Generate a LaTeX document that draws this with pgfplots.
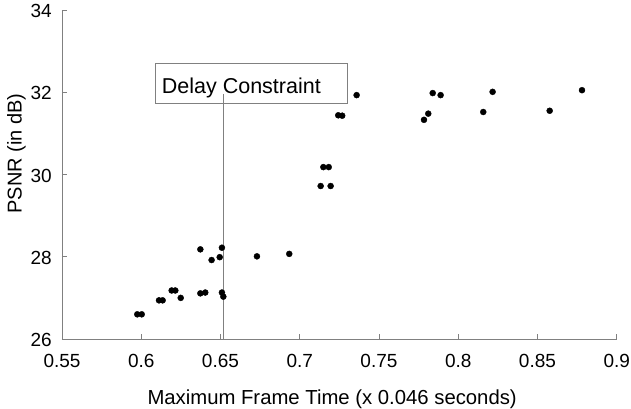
\documentclass[border=0pt]{standalone}
\usepackage{fontspec}
\setmainfont{Liberation Sans}
\usepackage{pgfplots}
\pgfplotsset{compat=1.18}
\definecolor{axgray}{RGB}{128,128,128}
\begin{document}
\begin{tikzpicture}
\begin{axis}[
  scale only axis,
  width=554.7pt, height=329pt,
  at={(0,0)}, anchor=south west,
  xmin=0.55, xmax=0.9, ymin=26, ymax=34,
  axis x line=bottom, axis y line=left,
  axis line style={-, axgray, line width=0.9pt},
  tick style={axgray, line width=0.9pt},
  tick align=inside,
  major tick length=5pt,
  xtick={0.55,0.6,0.65,0.7,0.75,0.8,0.85,0.9},
  xticklabels={0.55,0.6,0.65,0.7,0.75,0.8,0.85,0.9},
  ytick={26,28,30,32,34},
  yticklabels={26,28,30,32,34},
  xticklabel style={font=\fontsize{19}{21}\selectfont, anchor=base, yshift=-28pt, inner sep=0pt},
  yticklabel style={font=\fontsize{19}{21}\selectfont, anchor=east, xshift=-10pt, yshift=-1pt, inner sep=0pt},
  xlabel={Maximum Frame Time (x 0.046 seconds)},
  ylabel={PSNR (in dB)},
  xlabel style={font=\fontsize{20.3}{23}\selectfont, at={(axis description cs:0.487,-0.1976)}, anchor=base, inner sep=0pt},
  ylabel style={font=\fontsize{20}{23}\selectfont, at={(axis description cs:-0.082,0.564)}, anchor=center, inner sep=0pt},
  clip=false,
]
\addplot[only marks, mark=*, mark size=3pt, black] coordinates {
(0.5975,26.60) (0.6003,26.60)
(0.6112,26.94) (0.6135,26.94)
(0.6192,27.18) (0.6215,27.18)
(0.6249,27.00)
(0.6373,27.11) (0.6404,27.13)
(0.6373,28.18)
(0.6444,27.92)
(0.6495,27.99)
(0.6509,28.22)
(0.6509,27.13) (0.6518,27.03)
(0.6730,28.01)
(0.6934,28.07)
(0.7132,29.72) (0.7195,29.72)
(0.7149,30.18) (0.7183,30.18)
(0.7243,31.44) (0.7268,31.43)
(0.7359,31.93)
(0.7784,31.33) (0.7811,31.48)
(0.7839,31.98) (0.7889,31.93)
(0.8158,31.52)
(0.8217,32.01)
(0.8577,31.55)
(0.8781,32.05)
};
\addplot[axgray, line width=0.9pt] coordinates {(0.652,26) (0.652,31.95)};
\draw[axgray, line width=0.9pt] (axis cs:0.6091,31.718) rectangle (axis cs:0.7300,32.708);
\node[anchor=base west, inner sep=0pt, font=\fontsize{21.5}{24}\selectfont] at (axis cs:0.6129,31.978) {Delay Constraint};
\end{axis}
\path[use as bounding box] (-62pt,-67pt) rectangle (569pt,339pt);
\end{tikzpicture}
\end{document}
